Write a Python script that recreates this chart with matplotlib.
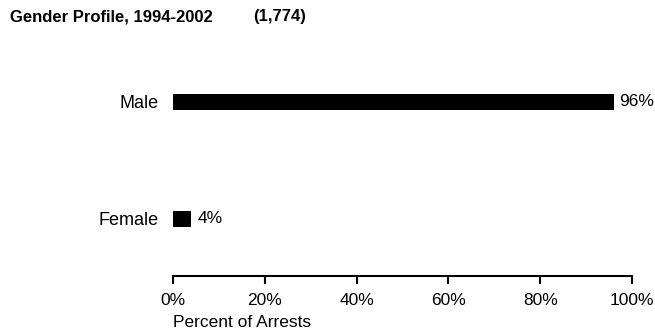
import matplotlib
matplotlib.use('Agg')

import matplotlib.pyplot as plt
from matplotlib.ticker import PercentFormatter

# Data
categories = ['Female', 'Male']
percents = [4, 96]
xticks = [0, 20, 40, 60, 80, 100]
title = 'Gender Profile, 1994-2002'
total = '(1,774)'

plt.rcParams['font.family'] = ['Liberation Sans', 'DejaVu Sans']

fig = plt.figure(figsize=(6.55, 3.35), dpi=100)
ax = fig.add_axes([173 / 655, 1 - 276 / 335, 459 / 655, 236 / 335])

ax.barh(range(len(categories)), percents, height=0.135, color='black')
for i, v in enumerate(percents):
    ax.text(v + 1.3, i, '{}%'.format(v), va='center', ha='left', fontsize=12.5)

ax.set_xlim(0, 100)
ax.set_ylim(-0.49, 1.53)
ax.set_xticks(xticks)
ax.xaxis.set_major_formatter(PercentFormatter(decimals=0))
ax.set_yticks(range(len(categories)))
ax.set_yticklabels(categories)
ax.tick_params(axis='y', length=0, pad=10, labelsize=13)
ax.tick_params(axis='x', direction='out', length=6, width=1.5, pad=6, labelsize=12.5)

for side in ['left', 'right', 'top']:
    ax.spines[side].set_visible(False)
ax.spines['bottom'].set_linewidth(1.5)

ax.set_xlabel('Percent of Arrests', fontsize=12.5, loc='left', labelpad=5)

fig.text(10 / 655, 1 - 17 / 335, title, fontsize=12, fontweight='bold', va='center', ha='left')
fig.text(253 / 655, 1 - 17 / 335, total, fontsize=12, fontweight='bold', va='center', ha='left')

plt.savefig('out.png', dpi=100)
